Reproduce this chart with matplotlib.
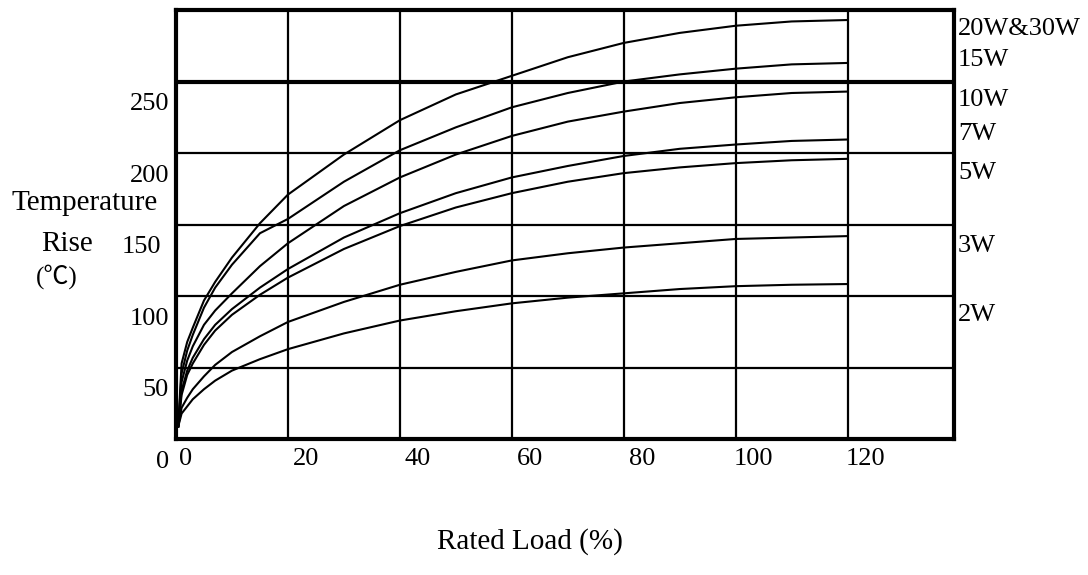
import numpy as np
import matplotlib
matplotlib.use("Agg")
import matplotlib.pyplot as plt
from matplotlib.transforms import ScaledTranslation

plt.rcParams['font.family'] = ['Liberation Serif', 'DejaVu Serif', 'Noto Sans CJK SC']

# === Data ===
load = [0.4, 1, 2, 3, 5, 7, 10, 15, 20, 30, 40, 50, 60, 70, 80, 90, 100, 110, 120]

rise_20w_30w = [9, 53, 68, 78, 97, 110, 127, 151, 171, 199, 223, 241, 254, 267, 277, 284, 289, 292, 293]
rise_15w = [9, 46, 62, 73, 92, 106, 122, 144, 154, 180, 202, 218, 232, 242, 250, 255, 259, 262, 263]
rise_10w = [9, 40, 55, 65, 80, 90, 102, 121, 137, 163, 183, 199, 212, 222, 229, 235, 239, 242, 243]
rise_7w = [9, 34, 48, 57, 70, 80, 91, 106, 119, 141, 158, 172, 183, 191, 198, 203, 206, 208.5, 209.5]
rise_5w = [9, 31, 45, 53, 66, 76, 87, 101, 113, 133, 149, 162, 172, 180, 186, 190, 193, 195, 196]
rise_3w = [9, 22, 29, 35, 44, 52, 61, 72, 82, 96, 108, 117, 125, 130, 134, 137, 140, 141, 142]
rise_2w = [9, 18, 23, 28, 35, 41, 48, 56, 63, 74, 83, 89.5, 95, 99, 102, 105, 107, 108, 108.5]

curves = [rise_20w_30w, rise_15w, rise_10w, rise_7w, rise_5w, rise_3w, rise_2w]

series_names = ["20W&30W", "15W", "10W", "7W", "5W", "3W", "2W"]
name_y = [287, 265, 237, 213, 186, 135, 87]

x_grid = [0, 20, 40, 60, 80, 100, 120]
y_grid = [0, 50, 100, 150, 200, 250, 300]
x_tick_labels = ["0", "20", "40", "60", "80", "100", "120"]
y_ticks = [0, 50, 100, 150, 200, 250]
y_tick_labels = ["0", "50", "100", "150", "200", "250"]

# === Figure ===
fig = plt.figure(figsize=(10.88, 5.75), dpi=100)
ax = fig.add_axes([176 / 1088, 1 - 439.3 / 575, (954 - 176) / 1088, (439.3 - 10) / 575])
ax.set_xlim(0, 139)
ax.set_ylim(0, 300)

for xv in x_grid[1:]:
    ax.axvline(xv, color='k', lw=1.6, zorder=1)
for yv in y_grid[1:-1]:
    ax.axhline(yv, color='k', lw=3.0 if yv == 250 else 1.6, zorder=1)

for ys in curves:
    ax.plot(load, ys, color='k', lw=1.5, zorder=2)

for sp in ax.spines.values():
    sp.set_linewidth(3)

ax.set_xticks(x_grid)
ax.set_xticklabels(x_tick_labels, fontsize=19)
ax.set_yticks(y_ticks)
ax.set_yticklabels(y_tick_labels, fontsize=19)
ax.tick_params(axis='both', length=0)
ax.tick_params(axis='x', pad=6)
ax.tick_params(axis='y', pad=5)

# labels in the reference sit beside the grid lines, not on them
for i, lab in enumerate(ax.get_xticklabels()):
    dx = 10 if i == 0 else 18
    lab.set_transform(lab.get_transform() + ScaledTranslation(dx / 100, 0, fig.dpi_scale_trans))
for lab in ax.get_yticklabels():
    dx = -8 if lab.get_text() == "150" else 0
    lab.set_transform(lab.get_transform() + ScaledTranslation(dx / 100, -20 / 100, fig.dpi_scale_trans))

for name, yv in zip(series_names, name_y):
    ax.text(1.005, yv, name, transform=ax.get_yaxis_transform(), fontsize=19,
            ha='left', va='center', clip_on=False)

fig.text(85 / 1088, 1 - 203 / 575, "Temperature", fontsize=21, ha='center', va='center')
fig.text(67 / 1088, 1 - 244 / 575, "Rise", fontsize=21, ha='center', va='center')
fig.text(57 / 1088, 1 - 277 / 575, "(℃)", fontsize=18, ha='center', va='center',
         family=['Liberation Serif', 'Noto Sans CJK SC'])
fig.text(530 / 1088, 1 - 542 / 575, "Rated Load (%)", fontsize=21, ha='center', va='center')

fig.savefig("out.png", dpi=100)
